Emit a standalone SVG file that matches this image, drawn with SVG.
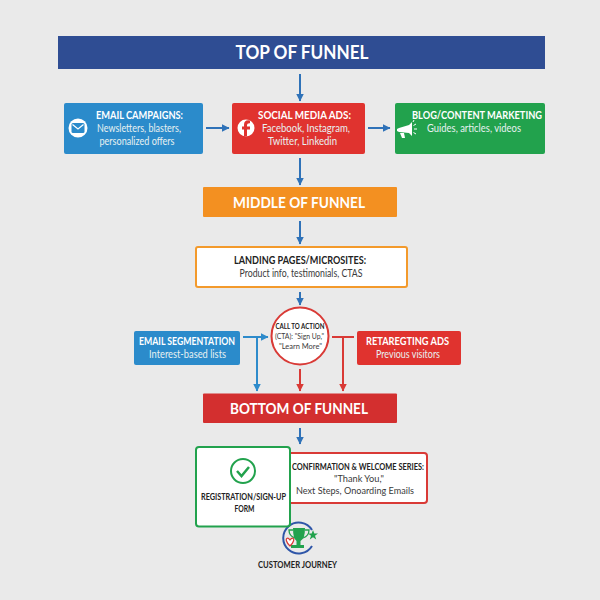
<svg xmlns="http://www.w3.org/2000/svg" width="600" height="600" viewBox="0 0 600 600">
<style>
text{font-family:Lato,"Liberation Sans",sans-serif;text-anchor:middle}
.h{font-weight:700;font-size:18px;fill:#fff}
.h2{font-weight:700;font-size:15px;fill:#fff}
.t{font-weight:700;font-size:11px;fill:#fff}
.s{font-size:11px;fill:#e8f1f1}
.k{font-weight:700;fill:#222}
.g{fill:#3a3a3a}
.ln{fill:none;stroke-width:2}
.bl{stroke:#2f72b8}.be{stroke:#2e8bcb}.rd{stroke:#d93a36}
</style>
<defs>
<marker id="ab" markerWidth="10" markerHeight="10" refX="7.5" refY="4" orient="auto" markerUnits="userSpaceOnUse"><path d="M0 0L8 4L0 8z" fill="#2f72b8"/></marker>
<marker id="ae" markerWidth="10" markerHeight="10" refX="7.5" refY="4" orient="auto" markerUnits="userSpaceOnUse"><path d="M0 0L8 4L0 8z" fill="#2e8bcb"/></marker>
<marker id="ar" markerWidth="10" markerHeight="10" refX="7.5" refY="4" orient="auto" markerUnits="userSpaceOnUse"><path d="M0 0L8 4L0 8z" fill="#d93a36"/></marker>
</defs>
<rect width="600" height="600" fill="#eaeaea"/>
<g id="connectors">
<path class="ln bl" marker-end="url(#ab)" d="M300 74V101"/>
<path class="ln bl" marker-end="url(#ab)" d="M206 128H229"/>
<path class="ln bl" marker-end="url(#ab)" d="M368 128H390"/>
<path class="ln bl" marker-end="url(#ab)" d="M300 158V185"/>
<path class="ln bl" marker-end="url(#ab)" d="M300 221V244"/>
<path class="ln bl" marker-end="url(#ab)" d="M300 292V305"/>
<path class="ln be" marker-end="url(#ae)" d="M243 337H268"/>
<path class="ln be" marker-end="url(#ae)" d="M257 337V391"/>
<path class="ln rd" marker-end="url(#ar)" d="M300 369V391"/>
<path class="ln rd" d="M332 337H354"/>
<path class="ln rd" marker-end="url(#ar)" d="M343 337V391"/>
<path class="ln bl" marker-end="url(#ab)" d="M300 428V444"/>
</g>
<g id="top"><rect x="58" y="36" width="487" height="33" fill="#2f4d93"/><text class="h" x="302" y="59" textLength="133" lengthAdjust="spacingAndGlyphs">TOP OF FUNNEL</text></g>
<g id="email"><rect x="64" y="103" width="139" height="51" rx="2" fill="#2b8bcb"/>
<circle cx="78" cy="128" r="9.500" fill="#fff"/><rect x="71.500" y="123" width="13" height="10" rx="1.500" fill="#2b8bcb"/><path d="M72.500 124.500L78 129L83.500 124.500" fill="none" stroke="#fff" stroke-width="1.200"/>
<text class="t" x="139.500" y="119" textLength="87" lengthAdjust="spacingAndGlyphs">EMAIL CAMPAIGNS:</text><text class="s" x="139" y="132" textLength="84" lengthAdjust="spacingAndGlyphs">Newsletters, blasters,</text><text class="s" x="137" y="145" textLength="75" lengthAdjust="spacingAndGlyphs">personalized offers</text></g>
<g id="social"><rect x="232" y="103" width="133" height="51" rx="2" fill="#e0332f"/>
<circle cx="246" cy="128" r="8.500" fill="#fff"/><path d="M247 136.500V129.500H250V126.500H247V125Q247 123 250 123.300V120.500Q244 119.500 244 125V126.500H242V129.500H244V136.500z" fill="#e0332f"/>
<text class="t" x="304.500" y="119" textLength="93" lengthAdjust="spacingAndGlyphs">SOCIAL MEDIA ADS:</text><text class="s" x="306" y="132" textLength="88" lengthAdjust="spacingAndGlyphs">Facebook, Instagram,</text><text class="s" x="302.500" y="145" textLength="69" lengthAdjust="spacingAndGlyphs">Twitter, Linkedin</text></g>
<g id="blog"><rect x="395" y="103" width="150" height="51" rx="2" fill="#22a24d"/>
<path d="M397 129L399 128L409 125L412 122V136L409 133L399 132L397 131z" fill="#fff"/><path d="M400 133H404L405 138H402z" fill="#fff"/><path d="M413.500 125.500L416 124M414 129H417M413.500 132.500L416 134M413 122L414 120" stroke="#fff" fill="none"/>
<text class="t" x="477" y="119" textLength="130" lengthAdjust="spacingAndGlyphs">BLOG/CONTENT MARKETING</text><text class="s" x="474" y="132" textLength="94" lengthAdjust="spacingAndGlyphs">Guides, articles, videos</text></g>
<g id="middle"><rect x="203" y="187" width="194" height="30" rx="1" fill="#f39021"/><text class="h2" x="299" y="207.500" textLength="132" lengthAdjust="spacingAndGlyphs">MIDDLE OF FUNNEL</text></g>
<g id="landing"><rect x="196" y="247" width="211" height="40" rx="2" fill="#fff" stroke="#f39a2c" stroke-width="2"/><text class="k" style="font-size:10.500px" x="300" y="264" textLength="132" lengthAdjust="spacingAndGlyphs">LANDING PAGES/MICROSITES:</text><text class="g" style="font-size:10.500px" x="301" y="277" textLength="123" lengthAdjust="spacingAndGlyphs">Product info, testimonials, CTAS</text></g>
<g id="cta"><circle cx="300" cy="336" r="28.500" fill="#fff" stroke="#d93a36" stroke-width="2"/><text class="k" style="font-size:7.500px" x="300" y="329" textLength="49" lengthAdjust="spacingAndGlyphs">CALL TO ACTION</text><text class="g" style="font-size:8px" x="299.500" y="339" textLength="49" lengthAdjust="spacingAndGlyphs">(CTA): "Sign Up,"</text><text class="g" style="font-size:8px" x="300.500" y="349" textLength="43" lengthAdjust="spacingAndGlyphs">"Learn More"</text></g>
<g id="segmentation"><rect x="134" y="331" width="106" height="34" rx="2" fill="#2b8bcb"/><text class="t" x="187" y="345" textLength="96" lengthAdjust="spacingAndGlyphs">EMAIL SEGMENTATION</text><text class="s" x="187.500" y="357.500" textLength="77" lengthAdjust="spacingAndGlyphs">Interest-based lists</text></g>
<g id="retargeting"><rect x="357" y="331" width="104" height="34" rx="2" fill="#e0332f"/><text class="t" x="407.500" y="345" textLength="83" lengthAdjust="spacingAndGlyphs">RETAREGTING ADS</text><text class="s" x="408" y="357.500" textLength="64" lengthAdjust="spacingAndGlyphs">Previous visitors</text></g>
<g id="bottom"><rect x="203" y="393.500" width="194" height="29.500" rx="1" fill="#d32f2f"/><text class="h2" x="299" y="413.500" textLength="138" lengthAdjust="spacingAndGlyphs">BOTTOM OF FUNNEL</text></g>
<g id="confirmation"><rect x="288" y="453" width="139" height="50" rx="3" fill="#fff" stroke="#d93a36" stroke-width="2"/><text class="k" style="font-size:9px" x="358" y="470" textLength="132" lengthAdjust="spacingAndGlyphs">CONFIRMATION &amp; WELCOME SERIES:</text><text class="g" style="font-size:10px" x="359" y="482" textLength="50" lengthAdjust="spacingAndGlyphs">"Thank You,"</text><text class="g" style="font-size:10px" x="355" y="494" textLength="118" lengthAdjust="spacingAndGlyphs">Next Steps, Onoarding Emails</text></g>
<g id="journey"><path d="M312 530A15.500 15.500 0 1 0 312 546" fill="none" stroke="#2f56a8" stroke-width="2"/>
<path d="M293 528H305Q305 539 300.500 541V545H304V548H291V545H296.500V541Q293 539 293 528z" fill="#22a24d"/>
<path d="M293 530H289Q289 536 295 538M305 530H309Q309 536 303 538" fill="none" stroke="#22a24d" stroke-width="1.300"/>
<path d="M290 540C288 537 285.500 538 286.500 541C287 543 289 545 290 546C291 545 293 543 293.500 541C294.500 538 292 537 290 540z" fill="#fff" stroke="#d93a36" stroke-width="1.200"/>
<path d="M313 530L314.300 533.500H318L315 535.800L316.200 539.500L313 537.300L309.800 539.500L311 535.800L308 533.500H311.700z" fill="#22a24d"/>
<text class="k" style="font-size:9px" x="297.500" y="568" textLength="79" lengthAdjust="spacingAndGlyphs">CUSTOMER JOURNEY</text></g>
<g id="registration"><rect x="196" y="447" width="94" height="79.500" rx="3" fill="#fff" stroke="#22a24d" stroke-width="2"/><circle cx="243" cy="471" r="12" fill="none" stroke="#22a24d" stroke-width="2"/><path d="M237 471L241.500 476L249 467" fill="none" stroke="#22a24d" stroke-width="2.500"/><text class="k" style="font-size:9px" x="243.500" y="500" textLength="85" lengthAdjust="spacingAndGlyphs">REGISTRATION/SIGN-UP</text><text class="k" style="font-size:9px" x="244.500" y="512" textLength="20" lengthAdjust="spacingAndGlyphs">FORM</text></g>
</svg>
